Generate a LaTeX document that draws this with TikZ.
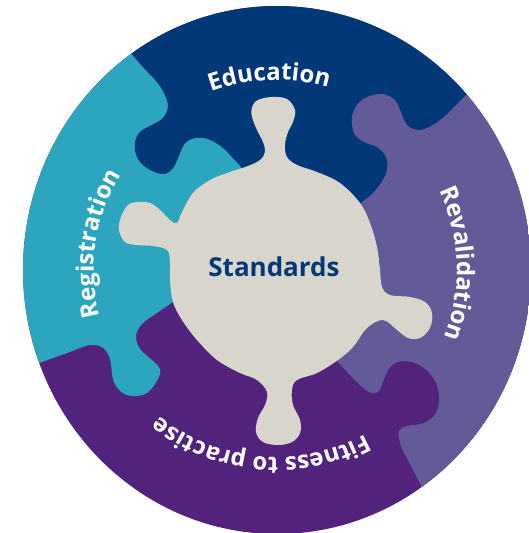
\documentclass[tikz,border=0pt]{standalone}
\usepackage{fontspec}
\setmainfont{Open Sans}
\usetikzlibrary{decorations.text}
\definecolor{regteal}{RGB}{43,166,190}
\definecolor{edunavy}{RGB}{2,55,120}
\definecolor{revlav}{RGB}{99,90,152}
\definecolor{fitpurple}{RGB}{82,35,124}
\definecolor{stdgray}{RGB}{216,214,204}
\definecolor{stdtext}{RGB}{3,55,120}
\tikzset{
  ringtext/.style={decorate, decoration={text along path, text align=center, text color=white,
     text={|\fontsize{24}{28}\selectfont\bfseries|#1}}},
  puz/.style={smooth, tension=0.6}
}
\begin{document}
\begin{tikzpicture}
\useasboundingbox (0,0) rectangle (528pt,-533pt);
\begin{scope}[x=1pt,y=-1pt]
  \begin{scope}
    \clip (277,270) ellipse [x radius=254, y radius=264];
    % Fitness to practise (base)
    \fill[fitpurple] (0,0) rectangle (560,560);
    % Registration
    \fill[regteal] (275,270) -- plot[puz] coordinates {(185,295) (173,302) (157,313) (142,324) (136,336) (140,349) (153,361) (160,369) (158,379) (147,393) (132,396) (120,391) (113,379) (110,359) (103,348) (90,345) (67,353) (39,363) (11,373)}
      -- (-50,400) -- (-50,-50) -- (80,-50)
      -- plot[puz] coordinates {(115,34) (131,53) (143,67) (157,82) (165,95) (168,107) (163,118) (152,125) (140,132) (135,143) (137,157) (147,168) (163,174) (173,168) (180,153) (185,143) (195,138) (208,139) (222,147) (233,158) (241,167) (250,180)}
      -- cycle;
    % Education
    \fill[edunavy] (275,270) -- plot[puz] coordinates {(250,180) (241,167) (233,158) (222,147) (208,139) (195,138) (185,143) (180,153) (173,168) (163,174) (147,168) (137,157) (135,143) (140,132) (152,125) (163,118) (168,107) (165,95) (157,82) (143,67) (131,53) (115,34)}
      -- (80,-50) -- (520,-50)
      -- plot[puz] coordinates {(488,73) (466,95) (444,117) (427,128) (416,130) (407,125) (402,115) (397,103) (391,97) (381,94) (367,97) (357,105) (352,117) (354,133) (364,142) (377,147) (386,157) (387,170) (381,183) (371,195) (361,203) (350,215)}
      -- cycle;
    % Revalidation
    \fill[revlav] (275,270) -- plot[puz] coordinates {(350,215) (361,203) (371,195) (381,183) (387,170) (386,157) (377,147) (364,142) (354,133) (352,117) (357,105) (367,97) (381,94) (391,97) (397,103) (402,115) (407,125) (416,130) (427,128) (444,117) (466,95) (488,73)}
      -- (520,-50) -- (600,-50) -- (600,600) -- (460,600)
      -- plot[puz] coordinates {(436,514) (423,489) (411,466) (401,446) (399,431) (407,426) (424,423) (436,413) (439,396) (434,379) (421,366) (404,361) (391,366) (384,379) (379,391) (371,393) (361,386) (351,376) (337,361) (325,350)}
      -- cycle;
  \end{scope}
  % Standards blob
  \fill[stdgray] plot[smooth cycle, tension=0.6] coordinates {
    (177,223) (182,212) (193,193) (210,180) (230,172) (248,166) (260,160) (265,152) (263,142) (257,130) (252,117) (252,107) (258,100) (272,97) (287,99) (295,110) (293,122) (288,132) (285,145) (287,157) (297,165) (317,172) (340,183) (360,203) (370,223) (377,247) (380,270) (382,287) (390,295) (410,297) (425,302) (432,313) (430,328) (420,338) (408,338) (397,330) (383,320) (367,328) (353,347) (338,360) (317,373) (297,380) (292,390) (293,405) (300,420) (300,433) (292,442) (278,445) (263,442) (256,432) (258,418) (265,405) (267,392) (257,380) (240,373) (217,360) (197,340) (182,320) (173,302) (170,280) (170,262) (167,250) (153,246) (137,245) (125,242) (119,230) (121,217) (128,205) (137,202) (150,203) (160,210) (170,220)};
  \node[font=\fontsize{26}{30}\selectfont\bfseries, text=stdtext, inner sep=0pt] (std) at (274,267) {Standards};
\end{scope}
% ring labels (normal orientation)
\begin{scope}[x=1pt,y=1pt]
  \coordinate (c) at (276,-270);
  \path[ringtext=Education] (c) ++(142:190) arc[start angle=142, end angle=42, radius=190];
  \path[ringtext=Revalidation] (c) ++(52:181) arc[start angle=52, end angle=-48, radius=181];
  \path[ringtext=Fitness to practise] (c) ++(-15:187) arc[start angle=-15, end angle=-175, radius=187];
  \path[ringtext=Registration] (c) ++(221.5:182) arc[start angle=221.5, end angle=121.5, radius=182];
\end{scope}
\end{tikzpicture}
\end{document}
